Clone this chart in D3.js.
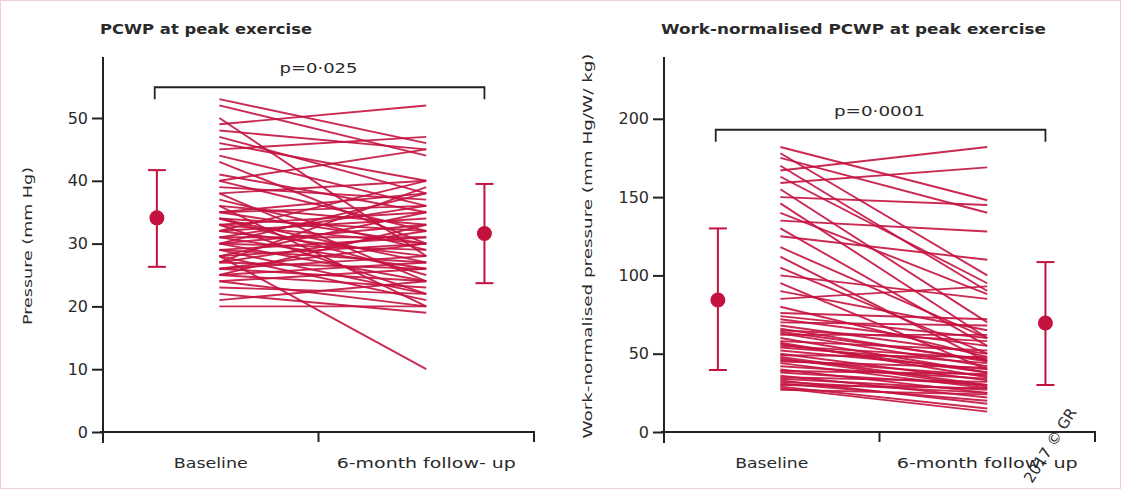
<!DOCTYPE html>
<html>
<head>
<meta charset="utf-8">
<script src="https://cdn.jsdelivr.net/npm/d3@7"></script>
<style>
  html, body { margin: 0; padding: 0; background: #fff; }
  svg { display: block; }
  text { font-family: "DejaVu Sans", "Open Sans", sans-serif; fill: #2a2a2a; }
</style>
</head>
<body>
<svg id="chart" width="1121" height="489"></svg>
<script>
// ---------------- DATA ----------------
const categories = ["Baseline", "6-month follow- up"];

// Panel A: PCWP at peak exercise (mm Hg), paired per patient
const pcwpBaseline = [53,52,50,49,48,47,46,45,44,43,41,40,40,39,38,38,37,36,36,35,35,35,34,34,34,33,33,33,32,32,32,31,31,31,30,30,30,30,29,29,29,28,28,28,27,27,27,26,26,26,25,25,25,24,24,23,22,21,20,28];
const pcwpFollowUp = [46,44,28,52,45,38,40,47,36,30,35,45,32,37,24,40,29,33,20,36,30,38,27,32,25,35,30,22,40,28,34,31,26,36,29,33,24,38,27,31,22,30,35,21,32,26,39,28,24,30,23,27,33,20,26,22,19,24,20,10];
// mean, lower, upper (mean ± SD)
const pcwpSummaryBaseline = [34.1, 26.3, 41.7];
const pcwpSummaryFollowUp = [31.6, 23.7, 39.5];
const pcwpTicks = [0,10,20,30,40,50];
const pcwpP = "p=0·025";

// Panel B: work-normalised PCWP (mm Hg/W/kg)
const wnBaseline = [182,178,175,170,167,163,159,155,150,146,140,135,130,125,118,112,105,100,95,90,85,80,76,74,72,70,68,66,65,63,62,60,58,57,55,54,52,50,49,48,46,45,44,42,40,39,38,36,35,34,33,32,31,30,29,28,27,56,64,47];
const wnFollowUp = [148,100,140,90,182,95,169,70,145,60,88,128,55,110,60,45,50,85,40,65,93,48,72,60,55,68,50,45,58,42,62,38,52,35,47,44,40,33,48,30,36,41,28,34,25,37,30,22,32,27,18,25,20,28,15,13,24,38,46,29];
const wnSummaryBaseline = [84.3, 39.6, 130];
const wnSummaryFollowUp = [69.6, 30, 108.5];
const wnTicks = [0,50,100,150,200];
const wnP = "p=0·0001";

const titles = ["PCWP at peak exercise", "Work-normalised PCWP at peak exercise"];
const yLabels = ["Pressure (mm Hg)", "Work-normalised pressure (mm Hg/W/ kg)"];
const watermark = "2017 © GR";

// ---------------- DRAW ----------------
const svg = d3.select("#chart");
const red = "#c4123f";
const ink = "#222";

svg.append("rect").attr("x",0.5).attr("y",0.5).attr("width",1120).attr("height",488)
  .attr("fill","none").attr("stroke","#f2cdd8").attr("stroke-width",1);

function panel(cfg) {
  const g = svg.append("g");
  const x = d3.scaleLinear().domain([0, 2]).range([cfg.x0, cfg.x1]);
  const y = d3.scaleLinear().domain([0, cfg.yMax]).range([432, 432 - cfg.yMax * cfg.pxPerUnit]);

  // title
  g.append("text").attr("x", cfg.x0 - 3).attr("y", 34)
    .attr("font-size", 14).attr("font-weight", 700)
    .attr("textLength", cfg.titleLen).attr("lengthAdjust", "spacingAndGlyphs")
    .text(cfg.title);

  // y label
  g.append("text").attr("transform", `translate(${cfg.yLabelX},${cfg.yLabelY}) rotate(-90)`)
    .attr("text-anchor", "middle").attr("font-size", 12)
    .attr("textLength", cfg.yLabelLen).attr("lengthAdjust", "spacingAndGlyphs")
    .text(cfg.yLabel);

  // paired lines
  const pairs = cfg.base.map((b, i) => [b, cfg.follow[i]]);
  g.append("g").selectAll("line").data(pairs).join("line")
    .attr("x1", x(0.54)).attr("x2", x(1.5))
    .attr("y1", d => y(d[0])).attr("y2", d => y(d[1]))
    .attr("stroke", red).attr("stroke-width", 1.9).attr("stroke-opacity", 0.9);

  // error bars
  const eb = [[0.25, cfg.sumB], [1.77, cfg.sumF]];
  eb.forEach(([pos, s]) => {
    const cx = x(pos);
    g.append("line").attr("x1", cx).attr("x2", cx).attr("y1", y(s[1])).attr("y2", y(s[2]))
      .attr("stroke", red).attr("stroke-width", 2);
    [s[1], s[2]].forEach(v => g.append("line").attr("x1", cx - 9).attr("x2", cx + 9)
      .attr("y1", y(v)).attr("y2", y(v)).attr("stroke", red).attr("stroke-width", 2));
    g.append("circle").attr("cx", cx).attr("cy", y(s[0])).attr("r", 7.5).attr("fill", red);
  });

  // bracket
  const by = y(cfg.bracketV);
  const bx1 = x(0.24), bx2 = x(1.77);
  g.append("path").attr("d", `M${bx1},${by + 12}V${by}H${bx2}V${by + 12}`)
    .attr("fill", "none").attr("stroke", ink).attr("stroke-width", 1.8);
  g.append("text").attr("x", x(1)).attr("y", by - 14).attr("text-anchor", "middle")
    .attr("font-size", 14).attr("textLength", cfg.pLen).attr("lengthAdjust", "spacingAndGlyphs")
    .text(cfg.p);

  // y axis
  const yAxis = d3.axisLeft(y).tickValues(cfg.ticks).tickSize(11).tickPadding(4);
  const ya = g.append("g").attr("transform", `translate(${cfg.x0},0)`).call(yAxis);
  ya.select(".domain").remove();
  ya.append("line").attr("x1", 0).attr("x2", 0).attr("y1", 57).attr("y2", 443)
    .attr("stroke", ink).attr("stroke-width", 2);
  ya.selectAll(".tick line").attr("stroke", ink).attr("stroke-width", 2);
  ya.selectAll(".tick text").attr("font-size", 16).attr("fill", "#444")
    .style("font-family", "'DejaVu Sans', sans-serif");

  // x axis
  const xa = g.append("g").attr("transform", "translate(0,432)");
  xa.append("line").attr("x1", cfg.x0 - 3).attr("x2", x(2) + 1).attr("y1", 0).attr("y2", 0)
    .attr("stroke", ink).attr("stroke-width", 2);
  xa.selectAll("line.t").data([1, 2]).join("line").attr("class", "t")
    .attr("x1", d => x(d)).attr("x2", d => x(d)).attr("y1", 0).attr("y2", 10)
    .attr("stroke", ink).attr("stroke-width", 2);
  xa.selectAll("text").data(categories).join("text")
    .attr("x", (d, i) => x(i + 0.5)).attr("y", 36).attr("text-anchor", "middle")
    .attr("font-size", 14)
    .attr("textLength", (d, i) => cfg.catLen[i]).attr("lengthAdjust", "spacingAndGlyphs")
    .text(d => d);
}

panel({
  x0: 103, x1: 534, yMax: 50, pxPerUnit: 6.28,
  base: pcwpBaseline, follow: pcwpFollowUp, sumB: pcwpSummaryBaseline, sumF: pcwpSummaryFollowUp,
  ticks: pcwpTicks, p: pcwpP, pLen: 78, bracketV: 54.9,
  title: titles[0], titleLen: 212, yLabel: yLabels[0], yLabelX: 32, yLabelY: 246, yLabelLen: 158,
  catLen: [74, 179]
});
panel({
  x0: 664, x1: 1095, yMax: 200, pxPerUnit: 1.566,
  base: wnBaseline, follow: wnFollowUp, sumB: wnSummaryBaseline, sumF: wnSummaryFollowUp,
  ticks: wnTicks, p: wnP, pLen: 91, bracketV: 193,
  title: titles[1], titleLen: 385, yLabel: yLabels[1], yLabelX: 592, yLabelY: 246, yLabelLen: 385,
  catLen: [73, 181]
});

svg.append("text").attr("transform", "translate(1032,484) rotate(-58)")
  .attr("font-size", 15).attr("fill", "#333").text(watermark);
</script>
</body>
</html>
